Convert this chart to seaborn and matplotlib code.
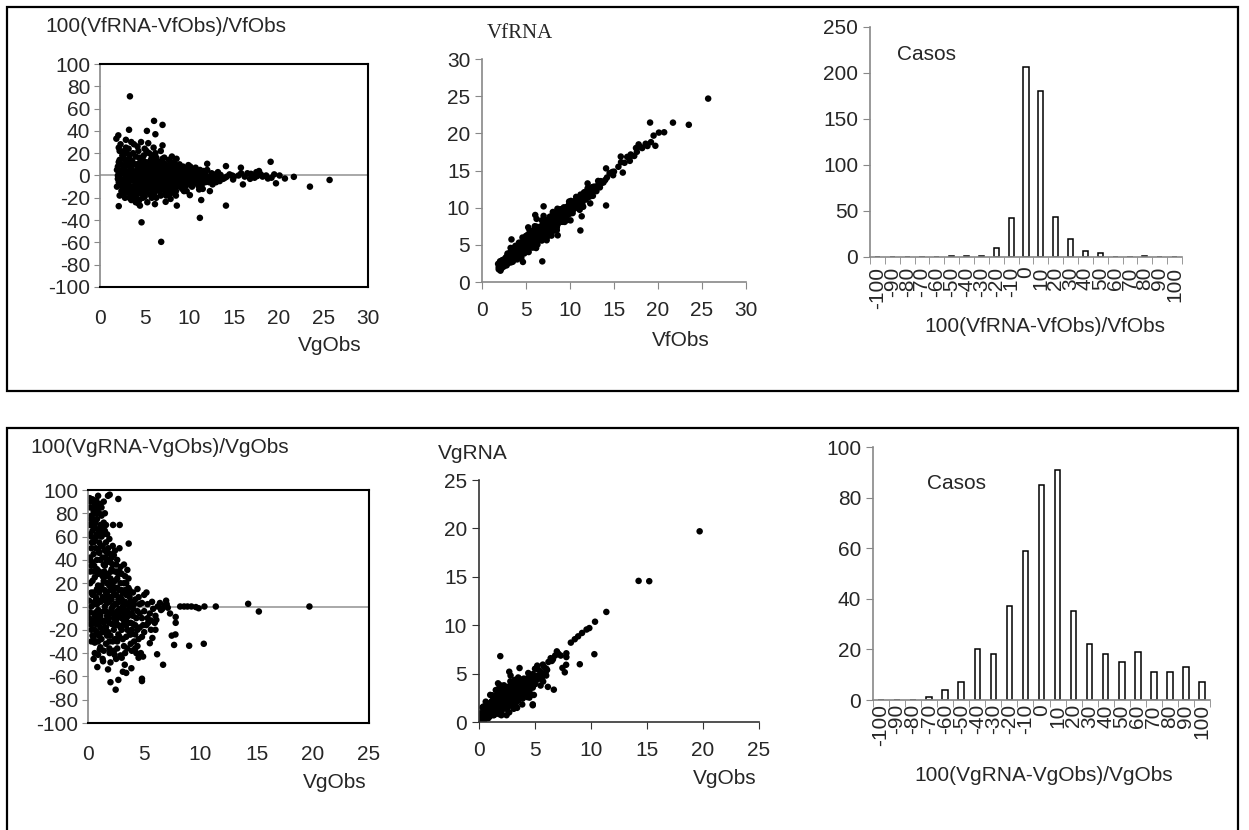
import numpy as np
import pandas as pd
import seaborn as sns
import matplotlib.pyplot as plt
from matplotlib.patches import Rectangle

# top row: (VfObs, 100(VfRNA-VfObs)/VfObs)
vf_points = [
    (3.35, 71), (3.25, 41), (2.1, -27.5), (4.65, -42), (6.85, -59.5), (6.05, 49), (7.0, 45.4),
    (5.25, 40), (6.2, 37), (5.4, 29), (2.9, 32), (1.83, 33), (2.05, 36), (7.0, 27), (8.05, 17),
    (8.57, 15), (19.1, 12.3), (14.1, 8.4), (15.77, 7), (12.0, 10.5), (11.1, -12.5), (12.3, -14),
    (11.33, -22), (11.18, -38), (14.1, -27), (8.6, -27), (7.35, -23.6), (6.15, -25.7), (4.47, -27),
    (7.9, -21), (23.5, -10), (25.7, -4), (21.7, -1.2), (20.7, -2.7), (20.1, 0), (19.7, -7),
    (18.8, -2.7), (16.0, -8), (14.9, -3.6), (10.06, -17.6), (9.4, -14), (9.9, 9.3),
    (16.5, 2), (17.0, 0), (17.5, 3), (18.0, 1), (18.2, -1), (17.3, -2), (16.8, -3), (16.2, -1),
    (15.5, 0), (15.0, -1), (15.8, 2), (17.8, 4), (18.6, 0), (19.2, -2), (19.5, 1), (16.9, 1.5),
    (17.6, -0.5), (12.5, 2), (13.0, -1), (13.5, 0.5), (14.0, -2), (14.5, 1), (12.8, -4), (13.2, 3),
    (12.2, -6), (13.8, -3), (14.8, 0), (12.0, 5), (11.8, -2), (12.6, -8), (13.4, -5),
    (1.9, 5), (2.0, -3), (2.1, 12), (2.2, 22), (2.3, -8), (2.4, 2), (2.5, 18), (2.6, -12),
    (2.7, 8), (2.8, -2), (2.9, 25), (3.0, -15), (2.3, 28), (2.6, 20), (2.0, 0), (2.5, -5),
    (2.8, 14), (2.2, -18), (2.9, 4), (2.4, 10),
    (3.1, 0), (3.2, -8), (3.3, 15), (3.4, -18), (3.5, 6), (3.6, -3), (3.7, 20), (3.8, -12),
    (3.9, 10), (4.0, -6), (3.2, 24), (3.5, -22), (3.7, 2), (3.3, -5), (3.8, 28), (3.1, 9),
    (3.6, 13), (3.9, -15), (3.4, -1), (4.0, 17), (3.5, 30), (3.9, -20),
    (4.1, 3), (4.2, -10), (4.3, 22), (4.4, -4), (4.5, 12), (4.6, -16), (4.7, 6), (4.8, -1),
    (4.9, 18), (5.0, -8), (4.2, 26), (4.4, -22), (4.6, 0), (4.8, 14), (4.3, -25), (4.5, 8),
    (4.7, -12), (4.9, 2), (5.0, 24), (4.1, -18), (4.6, 30), (4.4, 16),
    (5.1, 4), (5.2, -14), (5.3, 10), (5.4, -6), (5.5, 20), (5.6, -2), (5.7, 14), (5.8, -20),
    (5.9, 6), (6.0, -10), (5.2, 22), (5.4, 0), (5.6, -17), (5.8, 12), (5.3, -24), (5.5, -8),
    (5.7, 2), (5.9, 18), (5.1, -4), (6.0, 25), (5.6, 8), (5.0, -15),
    (6.1, 0), (6.2, -7), (6.3, 16), (6.4, -13), (6.5, 5), (6.6, -2), (6.7, 12), (6.8, -18),
    (6.9, 8), (7.0, -5), (6.2, 20), (6.4, 3), (6.6, -10), (6.8, 22), (6.3, -20), (6.5, -4),
    (6.7, 1), (6.9, -12), (6.1, 11), (7.0, 15), (6.0, -3),
    (7.1, 2), (7.2, -9), (7.3, 10), (7.4, -3), (7.5, 6), (7.6, -14), (7.7, 4), (7.8, -6),
    (7.9, 12), (8.0, 0), (7.2, 16), (7.4, -18), (7.6, -1), (7.8, 8), (7.3, -11), (7.5, -6),
    (7.7, 14), (7.9, -16), (8.0, -9),
    (8.1, 5), (8.2, -4), (8.3, 1), (8.4, -12), (8.5, 7), (8.6, -2), (8.7, 3), (8.8, -8),
    (8.9, 10), (9.0, -5), (8.2, -15), (8.4, 9), (8.6, -10), (8.8, 0), (8.5, -18), (9.0, 4),
    (9.1, -1), (9.3, -7), (9.5, 3), (9.7, -4), (9.9, 6), (9.2, -12), (9.4, 1), (9.6, -9),
    (9.8, -2), (10.0, 2), (9.3, 8), (9.7, -14),
    (10.2, -3), (10.4, 4), (10.6, -6), (10.8, 1), (11.0, -2), (11.2, 5), (11.4, -8), (11.6, 0),
    (11.8, 3), (10.3, -10), (10.7, 7), (11.1, -4), (11.5, -12), (10.9, -7), (11.7, -5), (10.5, 0),
    (2.1, -6), (2.3, 4), (2.5, -10), (2.7, 15), (2.9, -8), (3.0, 10), (3.2, 2), (3.4, 7),
    (3.6, -10), (3.8, -5), (4.0, 4), (4.2, 0), (4.4, 6), (4.6, -7), (4.8, -5), (5.0, 1),
    (5.2, -2), (5.4, 6), (5.6, -10), (5.8, 0), (6.0, 4), (6.2, -13), (6.4, 9), (6.6, -6),
    (6.8, 3), (7.0, -2), (7.2, 5), (7.4, 1), (7.6, -9), (7.8, -12), (8.0, 6), (8.2, 2),
    (8.4, -6), (8.6, 4), (8.8, -4), (9.0, 0), (9.2, 3), (9.4, -5), (9.6, 5), (9.8, -7),
    (10.0, -4), (3.1, -12), (3.3, 18), (3.5, -14), (3.7, -16), (4.1, 10), (4.3, -14), (4.5, -2),
    (4.7, 16), (4.9, -11), (5.1, 12), (5.3, -10), (5.5, 3), (5.7, -5), (5.9, -13), (6.1, -16),
    (6.3, 7), (6.5, -9), (6.7, -14), (6.9, -2), (7.1, 11), (7.3, -16), (7.5, 0), (7.7, -4),
    (7.9, 3), (2.4, -14), (2.6, 6), (2.8, -20), (3.0, 20), (2.2, 14), (2.0, 8), (1.9, -10),
    (2.1, 25), (4.0, -24), (5.0, -19), (6.0, 15), (7.0, 8), (8.0, -14), (8.3, 12), (10.1, 8),
    (10.5, -2), (11.0, 3), (11.3, -1), (10.8, -5),
    (2.2, -2), (2.4, -9), (2.6, 3), (2.8, 9), (3.0, -4), (3.2, 12), (3.4, -11), (3.6, 4),
    (3.8, -2), (4.0, -11), (4.2, 8), (4.4, -8), (4.6, 4), (4.8, 8), (5.0, -3), (5.2, 6),
    (5.4, -12), (5.6, 2), (5.8, -8), (6.0, 9), (6.2, -2), (6.4, -5), (6.6, 6), (6.8, -8),
    (7.0, 3), (7.2, -4), (7.4, -8), (7.6, 5), (7.8, 1), (8.0, -4), (8.2, -9), (8.4, 3),
    (8.6, -6), (8.8, 5), (9.0, -10), (9.2, 6), (9.4, -2), (9.6, 0), (9.8, 3), (10.0, -8),
    (10.2, 1), (10.4, -6), (10.6, 3), (10.8, -3), (11.0, -9), (11.2, 0), (11.4, -3), (11.6, 4),
    (11.8, -6), (12.1, -1), (12.4, -3), (12.7, 1), (13.0, -6), (13.3, 0), (13.6, -2), (14.2, -1),
    (3.5, 12), (4.5, -12), (5.5, 12), (6.5, 12), (7.5, -12), (8.5, -14), (2.5, -16), (3.3, -20),
    (2.7, 22), (4.8, -20), (5.8, 16),
]

# bottom row: (VgObs, 100(VgRNA-VgObs)/VgObs)
vg_points = [
    (2.7, 92.3), (1.78, 95), (1.93, 96), (0.15, 93), (0.74, 91), (2.82, 70), (2.23, 70),
    (3.62, 54), (3.5, 31.4), (2.46, -71.4), (2.0, -65), (2.7, -63), (4.8, -62), (4.8, -64),
    (0.83, -52), (6.68, -50), (6.15, -41), (7.66, -33), (9.0, -33.7), (10.3, -32), (7.45, -25),
    (7.78, -24), (7.8, -14), (7.8, -9), (6.95, 5), (8.2, 0), (8.55, 0), (8.85, 0), (9.2, 0),
    (9.6, -0.5), (9.85, -1.5), (10.36, 0), (11.37, 0), (14.25, 2.3), (15.2, -4.3), (19.7, 0),
    (5.2, 12), (6.08, -11.5), (5.94, -14), (6.0, -20), (5.35, -14), (5.73, -27), (5.5, -31.5),
    (4.9, -43), (4.3, -40), (4.5, -44), (3.86, -53), (3.4, -57), (3.1, -56), (3.27, -50),
    (2.37, -41.5), (1.93, -40), (1.04, -37), (0.9, -41.5), (1.34, -47), (1.78, -54),
    (0.74, -24), (0.6, -31),
    (0.2, 85), (0.3, 78), (0.5, 82), (0.6, 88), (0.8, 75), (1.0, 80), (1.1, 70), (0.4, 65),
    (0.2, 62), (0.6, 58), (0.9, 66), (1.2, 60), (1.4, 72), (1.6, 55), (1.8, 50), (0.3, 50),
    (0.5, 45), (0.8, 40), (1.0, 46), (1.3, 42), (1.5, 48), (1.7, 62), (2.0, 45), (2.2, 52),
    (2.4, 48), (2.6, 40), (2.8, 50), (1.1, 88), (0.4, 92), (1.4, 90), (0.7, 80), (1.5, 80),
    (2.0, 38), (2.5, 36), (2.9, 34),
    (0.2, 20), (0.4, 10), (0.6, 25), (0.8, 15), (1.0, 30), (1.2, 5), (1.4, 22), (1.6, 12),
    (1.8, 28), (2.0, 8), (2.2, 18), (2.4, 2), (2.6, 24), (2.8, 14), (3.0, 6), (3.2, 20),
    (3.4, 10), (3.6, 16), (3.8, 4), (4.0, 12), (0.3, 35), (0.9, 5), (1.5, 35), (2.1, 32),
    (2.7, 28), (3.3, 26), (1.1, 15), (1.7, 3), (2.3, 10), (2.9, 20), (3.5, 2), (4.2, 6),
    (4.5, 8), (4.8, 3), (5.0, 10), (0.5, 2), (1.9, 18), (3.1, 0), (3.7, 8), (4.4, 15),
    (0.2, -5), (0.4, -15), (0.6, -8), (0.8, -22), (1.0, -12), (1.2, -28), (1.4, -4), (1.6, -18),
    (1.8, -10), (2.0, -25), (2.2, -6), (2.4, -16), (2.6, -30), (2.8, -2), (3.0, -20), (3.2, -12),
    (3.4, -26), (3.6, -8), (3.8, -32), (4.0, -15), (4.2, -24), (4.4, -4), (4.6, -18), (4.8, -10),
    (5.0, -22), (0.5, -28), (1.1, -35), (1.7, -25), (2.3, -38), (2.9, -42), (3.5, -36), (4.1, -30),
    (0.3, -20), (0.9, -3), (1.5, -12), (2.1, -15), (2.7, -8), (3.3, -3), (3.9, -20), (4.5, -28),
    (5.2, -16), (5.5, -6), (5.8, -2), (6.2, 0), (6.5, -3), (6.8, 1), (7.1, -1), (7.3, -6),
    (6.0, -8), (5.6, -12), (1.3, -45), (2.0, -48), (2.5, -45), (3.0, -44),
    (5.3, 2), (5.7, 4), (6.4, 3), (7.0, 2), (6.6, -2),
    (0.1, 5), (0.3, 0), (0.5, 12), (0.7, -5), (0.9, 18), (1.1, -18), (1.3, 8), (1.5, 0),
    (1.7, -8), (1.9, 4), (2.1, -2), (2.3, 14), (2.5, -12), (2.7, 6), (2.9, -18), (3.1, 12),
    (3.3, -10), (3.5, -20), (3.7, 0), (3.9, -6), (0.2, -15), (0.4, 22), (0.6, -20), (0.8, 2),
    (1.0, -6), (1.2, 18), (1.4, -14), (1.6, 26), (1.8, -22), (2.0, 14), (2.2, -30), (2.4, 22),
    (2.6, -4), (2.8, -26), (3.0, -10), (3.2, 4), (3.4, -16), (3.6, 24), (3.8, -14), (4.0, -2),
    (0.3, -30), (0.5, -12), (0.7, 8), (0.9, -15), (1.1, 4), (1.3, -22), (1.5, 14), (1.7, 20),
    (1.9, -30), (2.1, 6), (2.3, -20), (2.5, 10), (2.7, -16), (2.9, 8), (3.1, -28), (3.3, 14),
    (3.5, -4), (3.7, -24), (4.1, 2), (4.3, -10), (4.6, -6), (4.9, -16), (4.2, -36), (4.7, -40),
    (0.6, -40), (1.0, -25), (1.6, -32), (2.4, -28), (3.2, -34), (1.2, 28), (0.8, 32), (2.0, 24),
    (2.8, 30), (3.4, 20),
    (0.1, 70), (0.2, 90), (0.3, 70), (0.5, 75), (0.6, 68), (0.7, 90), (0.8, 62), (0.9, 85),
    (1.0, 55), (1.2, 78), (1.3, 52), (1.5, 65), (1.6, 70), (1.8, 40), (1.9, 58), (2.1, 42),
    (2.3, 44), (0.2, 42), (0.4, 38), (0.7, 50), (1.1, 40), (1.4, 36), (0.9, 95), (1.2, 85),
    (0.5, 55), (1.0, 65), (0.3, 60), (1.7, 46), (2.2, 36), (2.6, 30), (3.0, 28), (3.2, 36),
    (2.4, 30),
    (0.1, -10), (0.2, 30), (0.3, 12), (0.4, -25), (0.5, 30), (0.6, 4), (0.7, -15), (0.8, -10),
    (0.9, 28), (1.0, 12), (1.1, -8), (1.2, -12), (1.3, 26), (1.4, 6), (1.5, -22), (1.6, -4),
    (1.7, 10), (1.8, 6), (1.9, -14), (2.0, -6), (2.1, 20), (2.2, 0), (2.3, -10), (2.4, -6),
    (2.5, 2), (2.6, 16), (2.7, -24), (2.8, 4), (2.9, -4), (3.0, 14), (3.1, -16), (3.2, -6),
    (3.3, 4), (3.4, -10), (3.5, 10), (3.6, -14), (3.7, 14), (3.8, -24), (3.9, 2), (4.0, -8),
    (4.2, -16), (4.4, -20), (4.6, 2), (4.8, -26), (5.0, -4), (5.3, -10), (5.6, -20),
    (0.15, 40), (0.35, 55), (0.55, 35), (0.75, 60), (0.95, 48), (1.15, 52), (1.35, 62),
    (1.55, 42), (0.25, 75), (0.45, 85), (0.65, 72), (0.85, 82), (1.25, 68), (1.65, 38),
    (2.05, 30), (1.45, 30), (0.5, -45), (0.9, -30), (1.4, -38), (1.9, -36), (2.6, -36),
    (3.3, -40), (3.9, -38), (4.4, -34),
    # above +100 %, only visible in the VgRNA scatter
    (1.9, 258), (0.5, 150), (0.8, 140), (1.2, 130), (1.5, 120), (1.0, 180), (0.3, 200),
    (1.7, 135), (0.15, 500), (0.3, 400), (0.4, 300), (0.6, 250),
]

bin_labels = [str(b) for b in range(-100, 101, 10)]
vf_counts = [0, 0, 0, 0, 0, 1, 1, 1, 10, 42, 206, 180, 44, 20, 6, 4, 0, 0, 1, 0, 0]
vg_counts = [0, 0, 0, 1, 4, 7, 20, 18, 37, 59, 85, 91, 35, 22, 18, 15, 19, 11, 11, 13, 7]

df_vf = pd.DataFrame(vf_points, columns=['VfObs', 'pct'])
df_vf['VfRNA'] = df_vf['VfObs'] * (1 + df_vf['pct'] / 100)
df_vg = pd.DataFrame(vg_points, columns=['VgObs', 'pct'])
df_vg['VgRNA'] = df_vg['VgObs'] * (1 + df_vg['pct'] / 100)
df_hf = pd.DataFrame({'bin': bin_labels, 'n': vf_counts})
df_hg = pd.DataFrame({'bin': bin_labels, 'n': vg_counts})

sns.set_style("white")
plt.rcParams['font.family'] = ['Liberation Sans', 'DejaVu Sans']
plt.rcParams['font.size'] = 15
plt.rcParams['axes.unicode_minus'] = False

W, H = 1249, 830
fig = plt.figure(figsize=(W / 100, H / 100), dpi=100)
FS = 15


def box(l, t, r, b):
    return [l / W, 1 - b / H, (r - l) / W, (b - t) / H]


def ftext(x, y, s, **kw):
    fig.text(x / W, 1 - y / H, s, va='center', **kw)


# outer frames
fig.add_artist(Rectangle((7 / W, 1 - 391 / H), 1231 / W, 384 / H, fill=False,
                         lw=1.6, ec='black', transform=fig.transFigure))
fig.add_artist(Rectangle((7 / W, -0.05), 1231 / W, 1 - 428 / H + 0.05, fill=False,
                         lw=1.6, ec='black', transform=fig.transFigure))

dot = dict(color='black', s=22, edgecolor='none', legend=False)


def pct_axes(ax, xmax, xstep):
    ax.set_xlim(0, xmax)
    ax.set_ylim(-100, 100)
    ax.set_xticks(np.arange(0, xmax + 1, xstep))
    ax.set_yticks(np.arange(-100, 101, 20))
    ax.axhline(0, color='#999999', lw=1.2, zorder=0)
    for s in ['top', 'right', 'bottom']:
        ax.spines[s].set_color('black')
        ax.spines[s].set_linewidth(1.5)
    ax.spines['left'].set_color('#888888')
    ax.spines['left'].set_linewidth(1.2)
    ax.tick_params(axis='y', left=True, length=4, color='#888888', pad=3, labelsize=FS)
    ax.tick_params(axis='x', bottom=False, pad=12, labelsize=FS)
    ax.set_xlabel('')
    ax.set_ylabel('')


def xy_axes(ax, lim, step, col):
    ax.set_xlim(0, lim)
    ax.set_ylim(0, lim)
    ax.set_xticks(np.arange(0, lim + 1, step))
    ax.set_yticks(np.arange(0, lim + 1, step))
    sns.despine(ax=ax)
    for s in ['left', 'bottom']:
        ax.spines[s].set_color(col)
        ax.spines[s].set_linewidth(1.2)
    ax.tick_params(left=True, bottom=True, length=5, color=col, labelsize=FS)
    ax.tick_params(axis='x', pad=9)
    ax.set_xlabel('')
    ax.set_ylabel('')


def hist_axes(ax, ymax, ystep, xpad):
    ax.set_xlim(-0.5, 20.5)
    ax.set_ylim(0, ymax)
    ax.set_yticks(np.arange(0, ymax + 1, ystep))
    ax.set_xticks(np.arange(-0.5, 21, 1), minor=True)
    ax.set_xticks(range(21))
    ax.set_xticklabels(bin_labels, rotation=90)
    sns.despine(ax=ax)
    for s in ['left', 'bottom']:
        ax.spines[s].set_color('#888888')
        ax.spines[s].set_linewidth(1.2)
    ax.tick_params(axis='y', left=True, length=5, color='#888888', labelsize=FS)
    ax.tick_params(axis='x', which='major', bottom=True, length=0, pad=xpad, labelsize=FS)
    ax.tick_params(axis='x', which='minor', bottom=True, length=5, color='#888888')
    ax.set_xlabel('')
    ax.set_ylabel('')


# ---- top row
ax1 = fig.add_axes(box(100, 64, 368, 287))
sns.scatterplot(data=df_vf, x='VfObs', y='pct', ax=ax1, **dot)
pct_axes(ax1, 30, 5)
ftext(45, 26, '100(VfRNA-VfObs)/VfObs', fontsize=FS)
ftext(362, 345, 'VgObs', ha='right', fontsize=FS)

ax2 = fig.add_axes(box(482, 59, 746, 282))
sns.scatterplot(data=df_vf, x='VfObs', y='VfRNA', ax=ax2, **dot)
xy_axes(ax2, 30, 5, '#888888')
ftext(487, 33, 'VfRNA', fontsize=15, family=['Liberation Serif', 'DejaVu Serif'])
ftext(710, 340, 'VfObs', ha='right', fontsize=FS)

ax3 = fig.add_axes(box(870, 27, 1182, 257))
sns.barplot(data=df_hf, x='bin', y='n', order=bin_labels, color='white', saturation=1,
            edgecolor='black', linewidth=1.1, width=0.35, errorbar=None, ax=ax3)
hist_axes(ax3, 250, 50, 7)
ftext(897, 55, 'Casos', fontsize=FS)
ftext(1045, 326, '100(VfRNA-VfObs)/VfObs', ha='center', fontsize=FS)

# ---- bottom row
ax4 = fig.add_axes(box(88, 490, 369, 723))
sns.scatterplot(data=df_vg, x='VgObs', y='pct', ax=ax4, **dot)
pct_axes(ax4, 25, 5)
ftext(30, 447, '100(VgRNA-VgObs)/VgObs', fontsize=FS)
ftext(367, 782, 'VgObs', ha='right', fontsize=FS)

ax5 = fig.add_axes(box(479, 480, 759, 722))
sns.scatterplot(data=df_vg, x='VgObs', y='VgRNA', ax=ax5, **dot)
xy_axes(ax5, 25, 5, '#333333')
ftext(438, 453, 'VgRNA', fontsize=FS)
ftext(757, 778, 'VgObs', ha='right', fontsize=FS)

ax6 = fig.add_axes(box(873, 447, 1210, 700))
sns.barplot(data=df_hg, x='bin', y='n', order=bin_labels, color='white', saturation=1,
            edgecolor='black', linewidth=1.1, width=0.35, errorbar=None, ax=ax6)
hist_axes(ax6, 100, 20, 3)
ftext(927, 483, 'Casos', fontsize=FS)
ftext(1044, 775, '100(VgRNA-VgObs)/VgObs', ha='center', fontsize=FS)

fig.savefig('out.png', dpi=100)
